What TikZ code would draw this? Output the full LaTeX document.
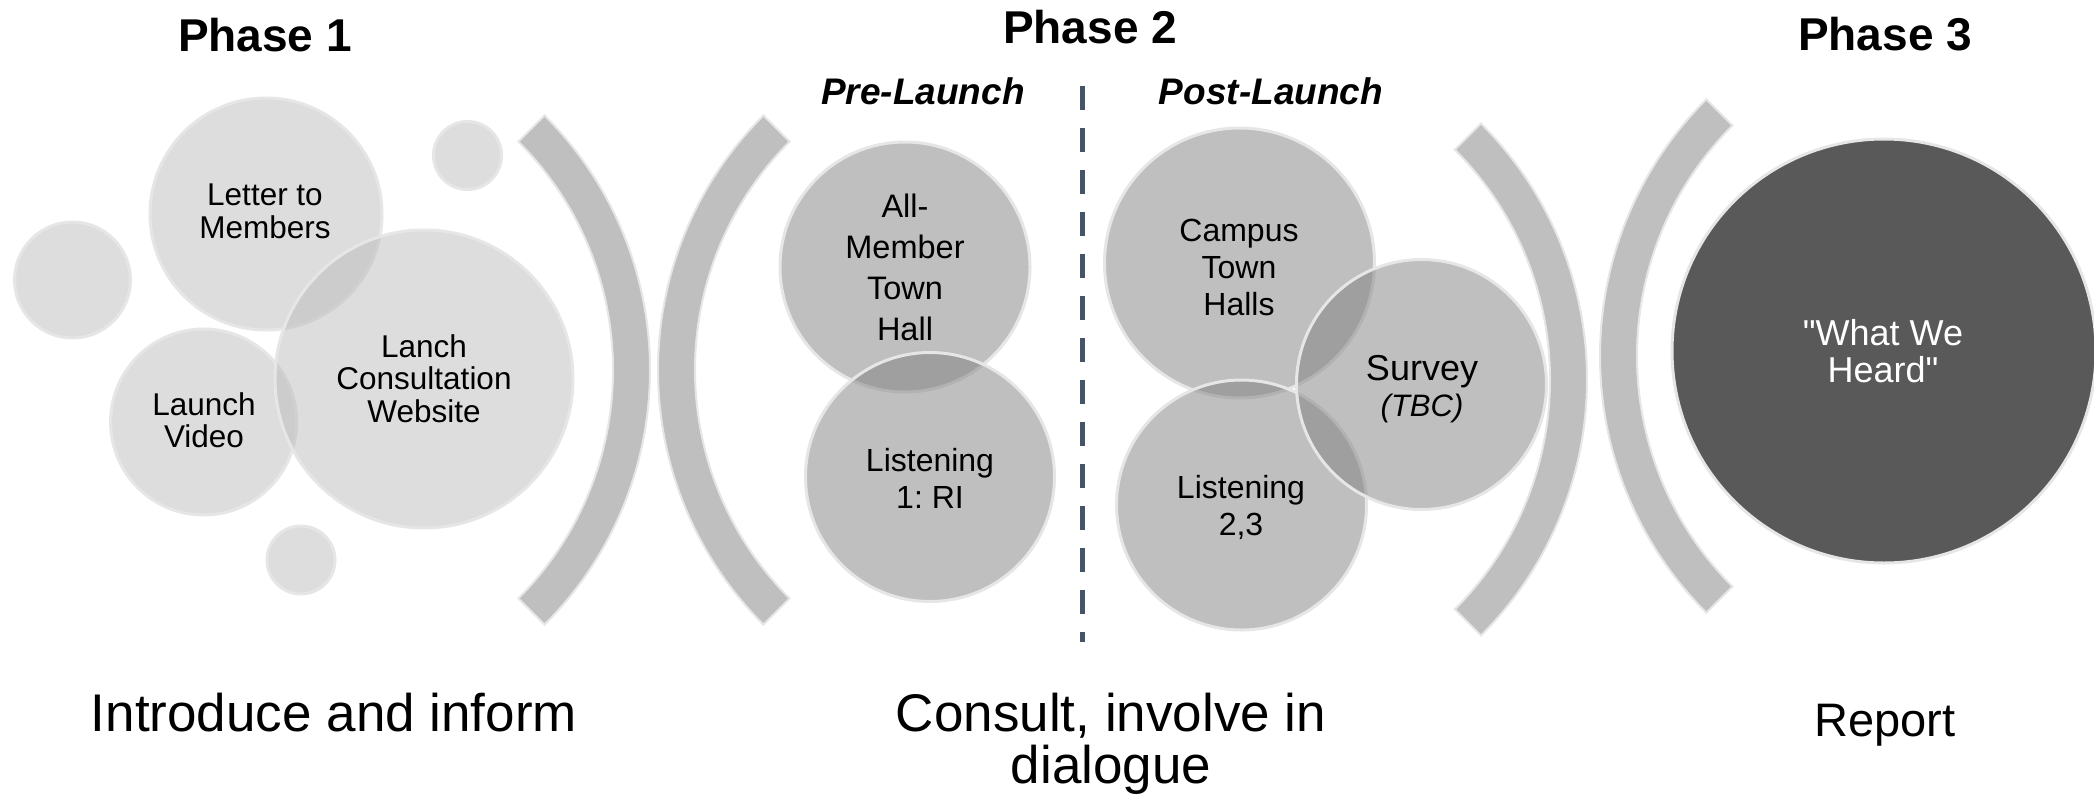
\documentclass[tikz,border=0pt]{standalone}
\usepackage{fontspec}
\setmainfont{Liberation Sans}
\newfontfamily\rawsans{Liberation Sans}
\usetikzlibrary{calc}
\definecolor{ringc}{HTML}{E6E6E6}
\definecolor{pone}{HTML}{BBBBBB}
\definecolor{ptwo}{HTML}{7F7F7F}
\definecolor{brk}{HTML}{BFBFBF}
\definecolor{heard}{HTML}{595959}
\definecolor{dashc}{HTML}{44546A}
\frenchspacing
\begin{document}
\begin{tikzpicture}[x=1pt,y=-1pt,
  circbase/.style={circle, inner sep=0pt, draw=ringc, line width=3pt},
  pone circ/.style={circbase, fill=pone, fill opacity=0.5, minimum size=#1},
  ptwo circ/.style={circbase, fill=ptwo, fill opacity=0.5, minimum size=#1},
  heard circ/.style={circbase, fill=heard, minimum size=#1},
  bracketshape/.style={fill=brk, draw=ringc, line width=2pt},
  phasetitle/.style={anchor=base, font=\bfseries\fontsize{46}{50}\selectfont},
  subtitle/.style={anchor=base, font=\bfseries\itshape\fontsize{37}{40}\selectfont},
  pone text/.style={anchor=base, align=center, inner sep=0pt, font=\frenchspacing\fontsize{31.5}{32.3}\selectfont},
  ptwo text/.style={anchor=base, align=center, inner sep=0pt, font=\frenchspacing\fontsize{32}{36.6}\selectfont},
  bottom text/.style={anchor=base, align=center, inner sep=0pt, font=\frenchspacing\fontsize{53}{52}\selectfont},
  divider/.style={draw=dashc, line width=5pt, dash pattern=on 24pt off 18pt}
]
\useasboundingbox (0,0) rectangle (2094,793);

% ---------- titles ----------
\node[phasetitle] (ph1) at (265,51) {Phase 1};
\node[phasetitle] (ph2) at (1090,43.5) {Phase 2};
\node[phasetitle] (ph3) at (1885,50.6) {Phase 3};
\node[subtitle] (pre) at (923,104.5) {Pre-Launch};
\node[subtitle] (post) at (1271,104.5) {Post-Launch};

% ---------- brackets ----------
\coordinate (b1c) at (290,370);
\coordinate (b2c) at (1018,370);
\coordinate (b3c) at (1225,379.5);
\coordinate (b4c) at (1963,356);
\filldraw[bracketshape] ($(b1c)+(-45:360)$) arc[start angle=-45, end angle=45, radius=360]
  -- ($(b1c)+(45:323)$) arc[start angle=45, end angle=-45, radius=323] -- cycle;
\filldraw[bracketshape] ($(b2c)+(135:360)$) arc[start angle=135, end angle=225, radius=360]
  -- ($(b2c)+(225:323)$) arc[start angle=225, end angle=135, radius=323] -- cycle;
\filldraw[bracketshape] ($(b3c)+(-45:362)$) arc[start angle=-45, end angle=45, radius=362]
  -- ($(b3c)+(45:325)$) arc[start angle=45, end angle=-45, radius=325] -- cycle;
\filldraw[bracketshape] ($(b4c)+(135:363)$) arc[start angle=135, end angle=225, radius=363]
  -- ($(b4c)+(225:326)$) arc[start angle=225, end angle=135, radius=326] -- cycle;

% ---------- phase 1 circles ----------
\node[pone circ=116] (s1) at (72.5,280) {};
\node[pone circ=68] (s2) at (467.5,155.5) {};
\node[pone circ=68] (s3) at (301,560) {};
\node[pone circ=232] (letter) at (266,214) {};
\node[pone circ=186] (video) at (203.6,422) {};
\node[pone circ=298] (site) at (424,379) {};
% anchor=base of a multi-line node is the baseline of its last line
\node[pone text] (lettert) at (265,238) {Letter to\\Members};
\node[pone text] (sitet) at (424,422) {Lanch\\Consultation\\Website};
\node[pone text] (videot) at (204,447.5) {Launch\\Video};

% ---------- phase 2 circles ----------
\node[ptwo circ=250] (allm) at (905,267) {};
\node[ptwo circ=249] (lis1) at (930,477) {};
\node[ptwo circ=270] (campus) at (1239.5,263) {};
\node[ptwo circ=250] (lis23) at (1241.5,505) {};
\node[ptwo circ=250] (survey) at (1421.5,384.5) {};
\node[ptwo text, font=\fontsize{32.5}{40.7}\selectfont] (allmt) at (905,340) {All-\\Member\\Town\\Hall};
\node[ptwo text] (lis1t) at (930,508) {Listening\\1: RI};
\node[ptwo text] (campust) at (1239,315) {Campus\\Town\\Halls};
\node[ptwo text] (lis23t) at (1241,535) {Listening\\2,3};
\node[ptwo text, font=\fontsize{36}{36}\selectfont] (surveyt) at (1422,416) {Survey\\{\fontsize{31}{36}\selectfont\itshape (TBC)}};

% ---------- divider ----------
\coordinate (dtop) at (1082,86);
\coordinate (dbot) at (1082,642);
\draw[divider] (dtop) -- (dbot);

% ---------- phase 3 ----------
\node[heard circ=424] (heard) at (1884,351) {};
\node[ptwo text, text=white, font=\rawsans\fontsize{36}{36.5}\selectfont] (heardt) at (1883,382) {"What We\\Heard"};

% ---------- bottom captions ----------
\node[bottom text] (intro) at (334,731) {Introduce and inform};
\node[bottom text] (consult) at (1111,783) {Consult, involve in\\dialogue};
\node[bottom text, font=\frenchspacing\fontsize{47}{50}\selectfont] (report) at (1885,736) {Report};
\end{tikzpicture}
\end{document}
